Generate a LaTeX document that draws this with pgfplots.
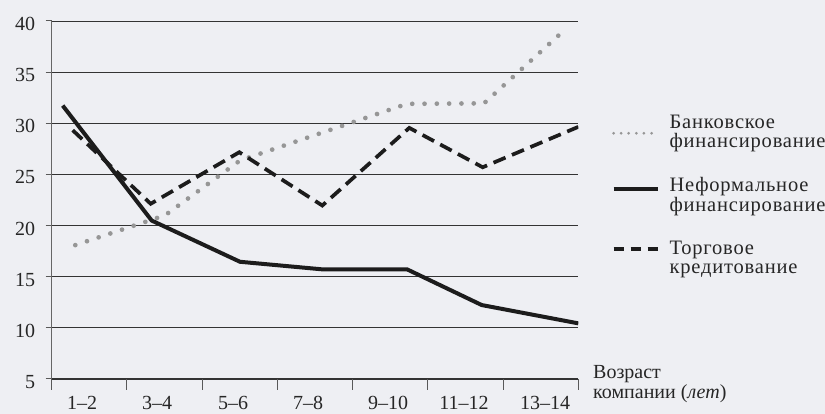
\documentclass[border=0pt]{standalone}
\usepackage{pgfplots}
\pgfplotsset{compat=1.18}
\usepackage{fontspec}
\setmainfont{Liberation Serif}
\newfontfamily\legfont[LetterSpace=4]{Liberation Serif}
\definecolor{bg}{RGB}{238,239,243}
\definecolor{dotc}{RGB}{150,150,150}
\definecolor{linec}{RGB}{28,28,28}
\begin{document}
\begin{tikzpicture}
\fill[bg] (0,0) rectangle (825pt,414pt);
\useasboundingbox (0,0) rectangle (825pt,414pt);
\begin{axis}[
  at={(51.7pt,35pt)}, anchor=south west,
  scale only axis, width=526.6pt, height=358pt,
  xmin=51.7, xmax=578.3, ymin=5, ymax=40,
  axis lines*=left,
  x axis line style={draw=black!80, line width=1pt},
  y axis line style={draw=black!60, line width=1.2pt},
  ytick={5,10,...,40},
  ymajorgrids,
  grid style={black!80, line width=0.8pt},
  xtick={82,157,233,308,388,464,545},
  xticklabels={1–2,3–4,5–6,7–8,9–10,11–12,13–14},
  minor xtick={51.7,126.9,202.2,277.4,352.6,427.9,503.1,578.3},
  tick align=outside,
  major tick length=6pt,
  minor tick length=11pt,
  major x tick style={draw=none},
  tick style={draw=black!65, line width=1pt},
  /pgf/number format/assume math mode=true,
  tick label style={font=\fontsize{20}{20}\selectfont, text=black!85},
  yticklabel style={xshift=-7pt, yshift=-3pt},
  xticklabel style={yshift=-7.5pt},
  xlabel={Возраст\\компании (\textit{лет})},
  x label style={at={(axis description cs:1,0)}, anchor=base west, xshift=14.7pt, yshift=-20pt,
    align=left, inner sep=0pt, font=\fontsize{20}{20}\selectfont, text=black!85},
  legend style={at={(1.057,0.742)}, anchor=north west, draw=none, fill=none,
    row sep=28.5pt, column sep=10pt,
    nodes={align=left, inner sep=0pt, font=\legfont\fontsize{20.5}{18.5}\selectfont, text=black!85}},
  legend cell align=left,
]
\addplot[dotc, line width=4.7pt, line cap=round, dash pattern=on 0pt off 12.3pt,
  legend image code/.code={\draw[dotc, line width=3pt, line cap=round, dash pattern=on 0pt off 7.6pt] (0pt,-1pt) -- (44pt,-1pt);}]
  coordinates {(75.3,18.09) (165,21.0) (240,26.36) (407,31.9) (484,31.95) (566,39.25)};
\addlegendentry{Банковское\\финансирование}
\addplot[linec, line width=4pt,
  legend image code/.code={\draw[linec, line width=4pt] (0pt,6pt) -- (44pt,6pt);}]
  coordinates {(62.7,31.73) (151.7,20.49) (240,16.46) (323.3,15.71) (407.3,15.71) (481.7,12.23) (578.3,10.44)};
\addlegendentry{Неформальное\\финансирование}
\addplot[linec, line width=3.7pt, dash pattern=on 13pt off 7pt,
  legend image code/.code={\draw[linec, line width=3.7pt, dash pattern=on 10pt off 7pt] (0pt,9pt) -- (44pt,9pt);}]
  coordinates {(72.7,29.32) (150.7,22.13) (239.3,27.17) (322.3,21.96) (409.3,29.55) (482.7,25.70) (578.3,29.65)};
\addlegendentry{Торговое\\кредитование}
\end{axis}
\end{tikzpicture}
\end{document}
